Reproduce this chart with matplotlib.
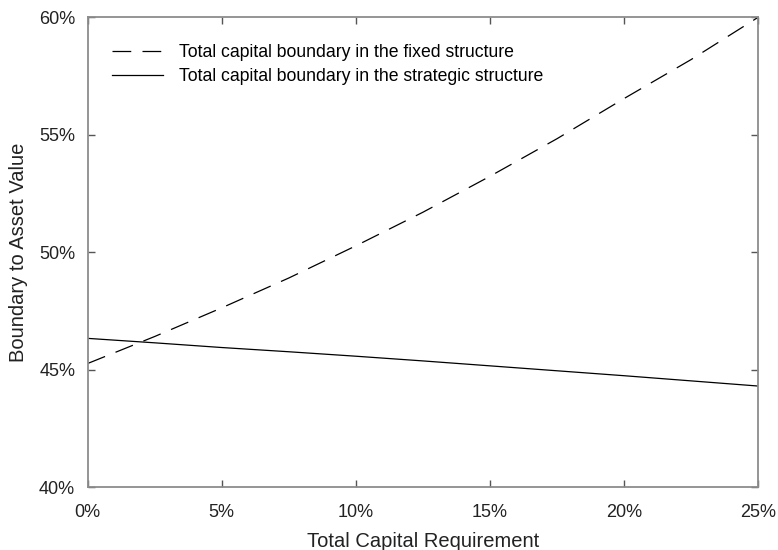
import numpy as np
from matplotlib import pyplot as plt
from matplotlib.ticker import FuncFormatter

plt.rcParams['font.family'] = ['Liberation Sans', 'DejaVu Sans']

# 资本要求（%）
capital_req = [0, 2.5, 5, 7.5, 10, 12.5, 15, 17.5, 20, 22.5, 25]
# 固定结构下的总资本边界（%）
fixed_boundary = [45.26, 46.41, 47.63, 48.9, 50.27, 51.7, 53.23, 54.83, 56.54, 58.2, 60.0]
# 策略结构下的总资本边界（%）
strategic_boundary = [46.33, 46.14, 45.94, 45.76, 45.57, 45.37, 45.16, 44.95, 44.74, 44.52, 44.30]

x_ticks = [0, 5, 10, 15, 20, 25]
y_ticks = [40, 45, 50, 55, 60]

fig = plt.figure(figsize=(7.78, 5.5), dpi=100)
ax = fig.add_axes([0.1127, 0.1145, 0.8617, 0.854])

ax.plot(capital_req, fixed_boundary, color='black', lw=0.9, dashes=(15, 9),
        label='Total capital boundary in the fixed structure')
ax.plot(capital_req, strategic_boundary, color='black', lw=0.9,
        label='Total capital boundary in the strategic structure')

ax.set_xlim(0, 25)
ax.set_ylim(40, 60)
ax.set_xticks(x_ticks)
ax.set_yticks(y_ticks)
pct = FuncFormatter(lambda v, p: '%d%%' % v)
ax.xaxis.set_major_formatter(pct)
ax.yaxis.set_major_formatter(pct)

for s in ax.spines.values():
    s.set_color('#8c8c8c')
    s.set_linewidth(1.3)
ax.tick_params(direction='in', length=5, width=1, color='#555555',
               top=True, right=True, labelsize=13, labelcolor='#222222')
ax.tick_params(axis='x', pad=12)
ax.tick_params(axis='y', pad=9)

ax.set_xlabel('Total Capital Requirement', fontsize=14.5, color='#222222', labelpad=8)
ax.set_ylabel('Boundary to Asset Value', fontsize=14.5, color='#222222', labelpad=8)

# 图例放在左上角，无边框
ax.legend(loc='upper left', frameon=False, fontsize=12.7, handlelength=2.9,
          handletextpad=0.9, labelspacing=0.4, borderaxespad=0, borderpad=0,
          bbox_to_anchor=(0.036, 0.943))

plt.savefig('out.png', dpi=100)
